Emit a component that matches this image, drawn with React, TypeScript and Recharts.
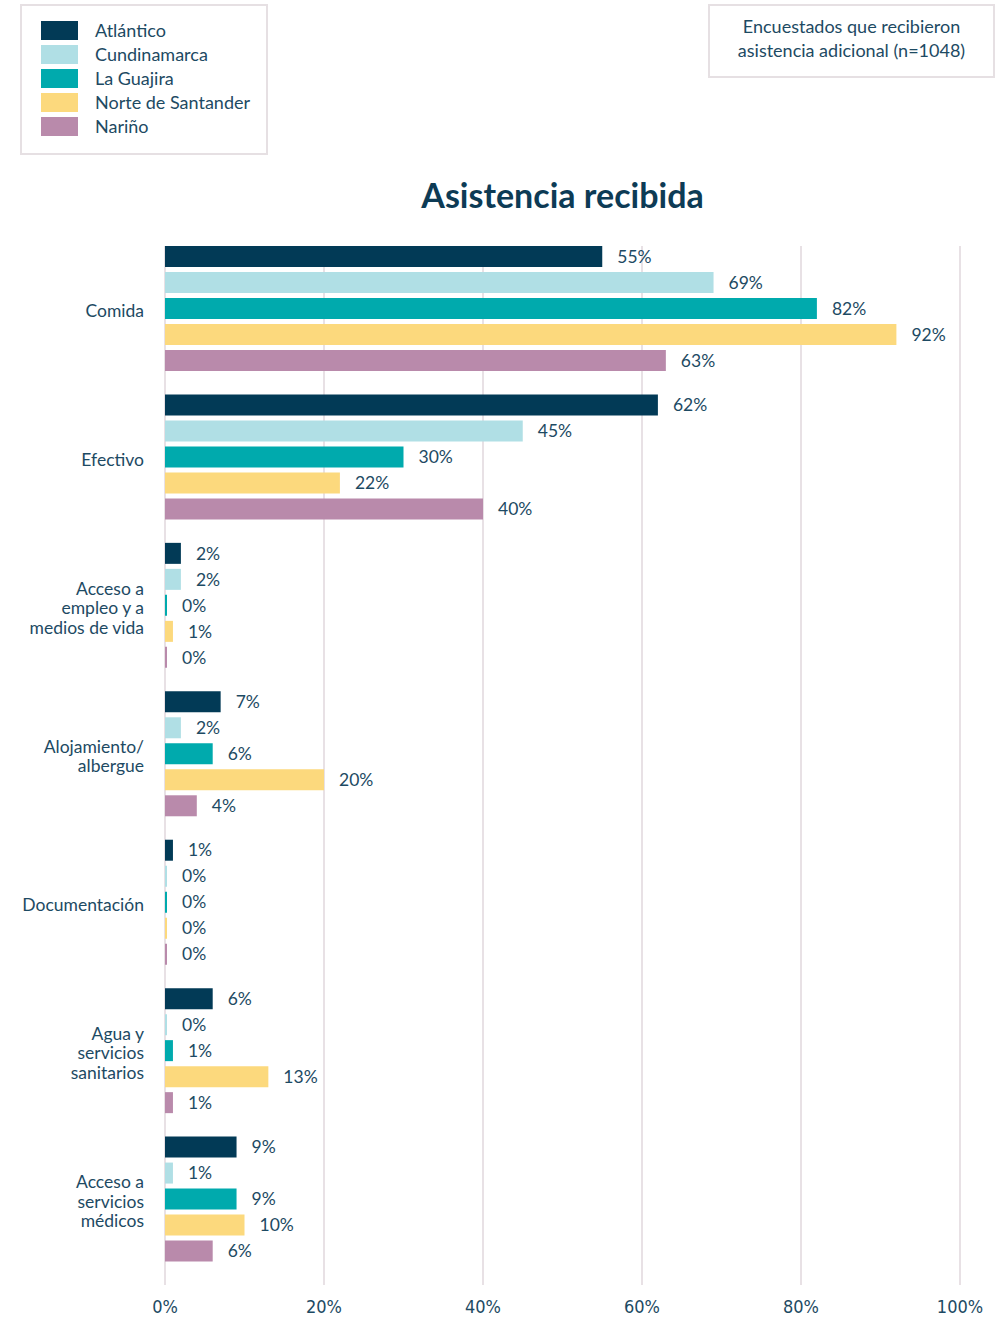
import { BarChart, Bar, XAxis, YAxis, CartesianGrid, LabelList } from 'recharts'

// Categories and their wrapped tick lines
const categories = [
  'Comida',
  'Efectivo',
  'Acceso a empleo y a medios de vida',
  'Alojamiento/albergue',
  'Documentación',
  'Agua y servicios sanitarios',
  'Acceso a servicios médicos',
]
const categoryLines = [
  ['Comida'],
  ['Efectivo'],
  ['Acceso a', 'empleo y a', 'medios de vida'],
  ['Alojamiento/', 'albergue'],
  ['Documentación'],
  ['Agua y', 'servicios', 'sanitarios'],
  ['Acceso a', 'servicios', 'médicos'],
]

// Percent of respondents per department
const atlantico = [55, 62, 2, 7, 1, 6, 9]
const cundinamarca = [69, 45, 2, 2, 0, 0, 1]
const laGuajira = [82, 30, 0, 6, 0, 1, 9]
const norteSantander = [92, 22, 1, 20, 0, 13, 10]
const narino = [63, 40, 0, 4, 0, 1, 6]

const xTicks = [0, 20, 40, 60, 80, 100]

const series = [
  { key: 'atlantico', name: 'Atlántico', color: '#023a56', values: atlantico },
  { key: 'cundinamarca', name: 'Cundinamarca', color: '#b0dfe5', values: cundinamarca },
  { key: 'laGuajira', name: 'La Guajira', color: '#00aaad', values: laGuajira },
  { key: 'norteSantander', name: 'Norte de Santander', color: '#fcd97d', values: norteSantander },
  { key: 'narino', name: 'Nariño', color: '#b98aab', values: narino },
]

const chartData = categories.map((category, i) => {
  const row: Record<string, string | number> = { category }
  series.forEach(s => { row[s.key] = s.values[i] })
  return row
})

const FONT = "Lato, 'Noto Sans', sans-serif"
const TEXT = '#1d4a63'

function CategoryTick({ x, y, payload }: any) {
  const lines = categoryLines[payload.index] ?? [payload.value]
  const lh = 19.5
  const start = -((lines.length - 1) * lh) / 2
  return (
    <text x={x} y={y + 2} textAnchor="end" fill={TEXT} fontSize={17.5} fontFamily={FONT}>
      {lines.map((line, i) => (
        <tspan key={i} x={x} y={y + 2 + start + i * lh} dy="0.35em">{line}</tspan>
      ))}
    </text>
  )
}

function PercentTick({ x, y, payload }: any) {
  return (
    <text
      x={x}
      y={y}
      dy="0.71em"
      textAnchor="middle"
      fill={TEXT}
      fontSize={18}
      style={{ fontFamily: "'DejaVu Sans', sans-serif", fontStretch: 'condensed' }}
    >
      {`${payload.value}%`}
    </text>
  )
}

function LegendBox() {
  return (
    <div style={{
      position: 'absolute', top: 4, left: 20, border: '2px solid #e6e0e3', width: 248, height: 151,
      boxSizing: 'border-box', padding: '12px 0 0 19px', fontFamily: FONT,
    }}>
      {series.map(s => (
        <div key={s.key} style={{ display: 'flex', alignItems: 'center', height: 24 }}>
          <span style={{ width: 37, height: 19, background: s.color, display: 'inline-block' }} />
          <span style={{ marginLeft: 17, fontSize: 18, color: TEXT }}>{s.name}</span>
        </div>
      ))}
    </div>
  )
}

export default function App() {
  return (
    <div style={{ position: 'absolute', top: 0, left: 0, width: 1002, height: 1317, background: '#fff' }}>
      <LegendBox />
      <div style={{
        position: 'absolute', top: 4, left: 708, width: 287, height: 74, boxSizing: 'border-box',
        border: '2px solid #e6e0e3', fontFamily: FONT, fontSize: 18, color: TEXT,
        textAlign: 'center', lineHeight: '24px', paddingTop: 8,
      }}>
        Encuestados que recibieron<br />asistencia adicional (n=1048)
      </div>
      <div style={{
        position: 'absolute', top: 174, left: 165, width: 795, textAlign: 'center',
        fontFamily: FONT, fontWeight: 700, fontSize: 34, lineHeight: '42px', color: '#0d3b55',
      }}>
        Asistencia recibida
      </div>
      <BarChart
        width={1002}
        height={1317}
        data={chartData}
        layout="vertical"
        margin={{ top: 235, right: 42, bottom: 2, left: 0 }}
        barCategoryGap={11}
        barGap={5}
      >
        <CartesianGrid horizontal={false} vertical stroke="#e8e1e5" strokeWidth={2} y={246} height={1039} />
        <XAxis
          type="number"
          domain={[0, 100]}
          ticks={xTicks}
          axisLine={false}
          tickLine={false}
          height={30}
          tickMargin={9}
          tick={<PercentTick />}
        />
        <YAxis
          type="category"
          dataKey="category"
          width={165}
          axisLine={false}
          tickLine={false}
          tickMargin={15}
          padding={{ top: 0, bottom: 11 }}
          tick={<CategoryTick />}
          interval={0}
        />
        {series.map(s => (
          <Bar key={s.key} dataKey={s.key} name={s.name} fill={s.color} minPointSize={2} isAnimationActive={false}>
            <LabelList
              dataKey={s.key}
              position="right"
              offset={15}
              formatter={(v: any) => `${v}%`}
              fill={TEXT}
              fontSize={17.5}
              fontFamily={FONT}
            />
          </Bar>
        ))}
      </BarChart>
    </div>
  )
}
